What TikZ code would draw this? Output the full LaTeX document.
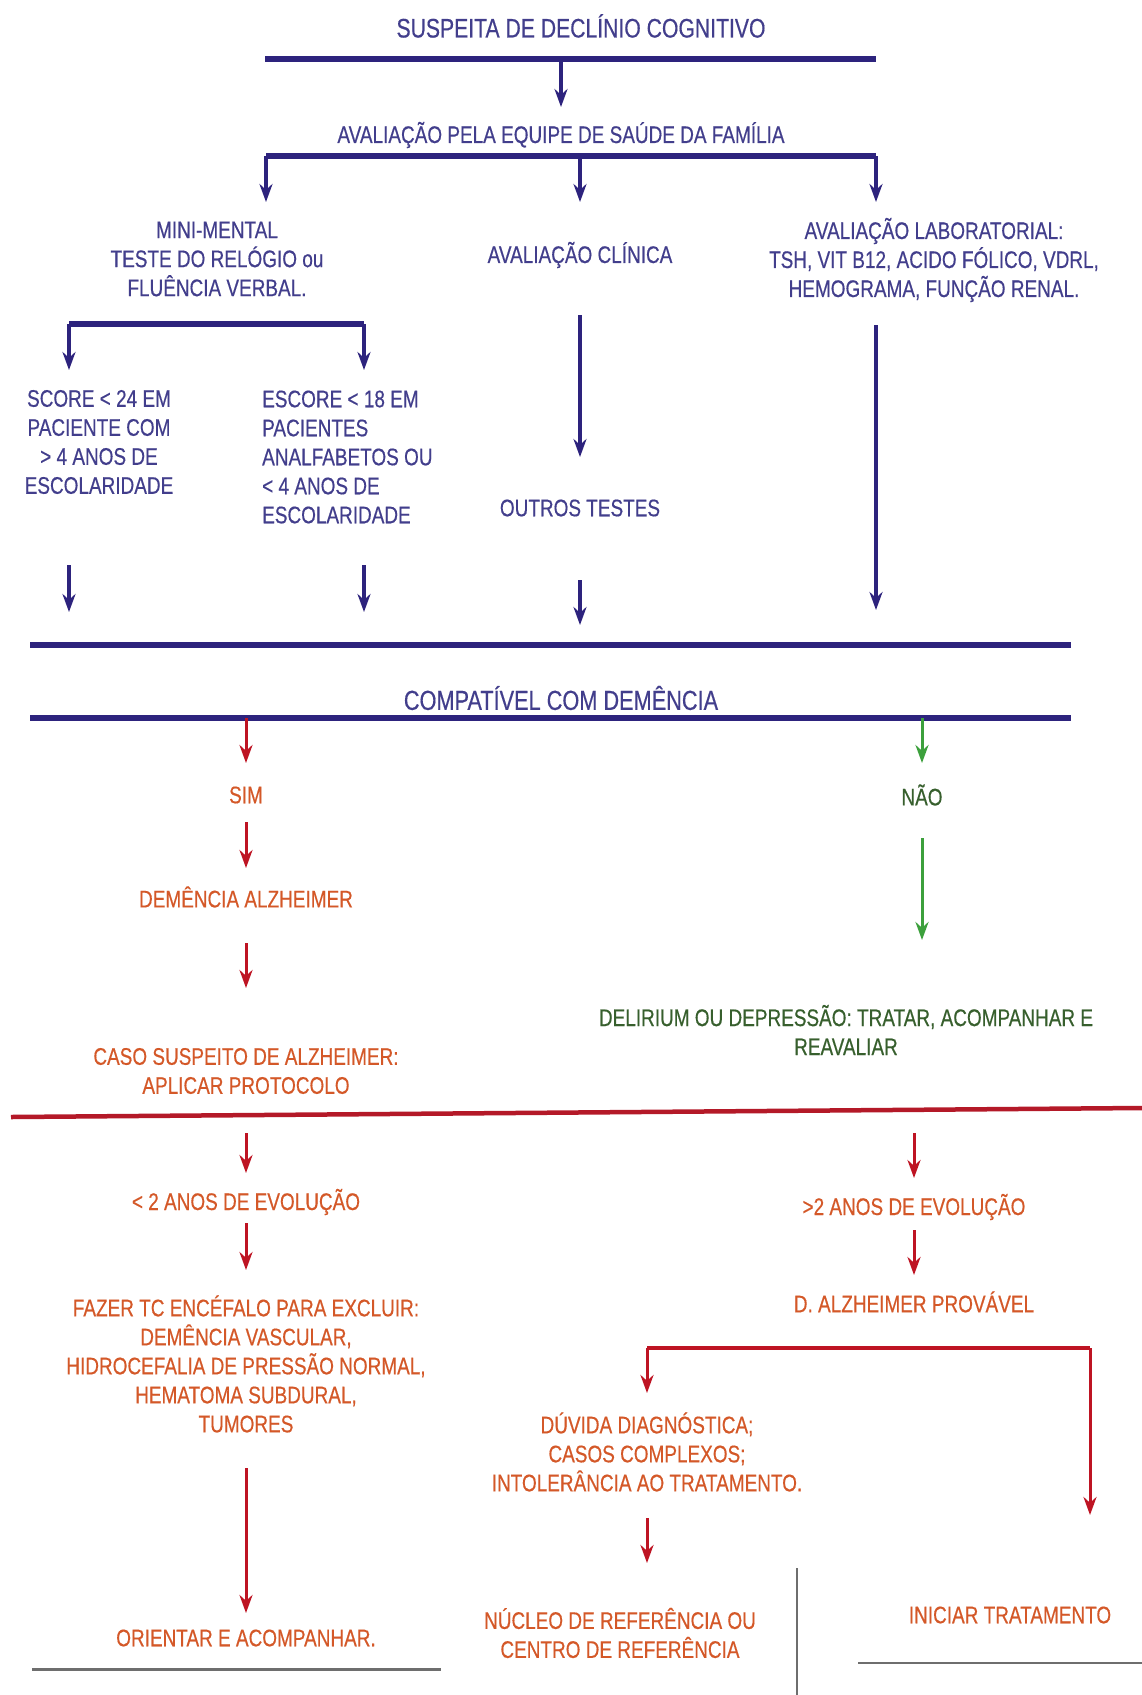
\documentclass[tikz,border=0pt]{standalone}
\usepackage{fontspec}
\setmainfont[FakeStretch=0.79,FakeBold=0.4]{Liberation Sans}
\usetikzlibrary{arrows.meta}
\definecolor{navy}{RGB}{45,35,125}
\definecolor{navytxt}{RGB}{66,62,140}
\definecolor{arrred}{RGB}{190,20,35}
\definecolor{lnred}{RGB}{180,25,40}
\definecolor{orangetxt}{RGB}{212,88,40}
\definecolor{grnarr}{RGB}{60,160,60}
\definecolor{grntxt}{RGB}{55,95,45}
\definecolor{grayln}{RGB}{110,110,110}
\tikzset{
  txt/.style={inner sep=0pt, align=center, font=\fontsize{24}{29}\selectfont},
  btxt/.style={txt, text=navytxt},
  otxt/.style={txt, text=orangetxt},
  gtxt/.style={txt, text=grntxt},
  barb/.style={draw=navy, line width=5.5pt},
  arb/.style={draw=navy, line width=3.5pt, -{Stealth[length=18pt,width=13pt]}},
  arr/.style={draw=arrred, line width=3pt, -{Stealth[length=18pt,width=13pt]}},
  arg/.style={draw=grnarr, line width=3pt, -{Stealth[length=18pt,width=13pt]}},
  barr/.style={draw=arrred, line width=4pt},
  grayl/.style={draw=grayln, line width=3pt}
}
\begin{document}
\begin{tikzpicture}[x=1pt,y=-1pt]
\fill[white] (0,0) rectangle (1142,1695);
\useasboundingbox (0,0) rectangle (1142,1695);

% ---- text nodes ----
\node[btxt, font=\fontsize{26.8}{29}\selectfont] (title) at (581,26) {SUSPEITA DE DECLÍNIO COGNITIVO};
\node[btxt] (equipe) at (561,135) {AVALIAÇÃO PELA EQUIPE DE SAÚDE DA FAMÍLIA};
\node[btxt] (mini) at (217,259) {MINI-MENTAL\\TESTE DO RELÓGIO ou\\FLUÊNCIA VERBAL.};
\node[btxt] (clinica) at (580,255) {AVALIAÇÃO CLÍNICA};
\node[btxt] (lab) at (934,260) {AVALIAÇÃO LABORATORIAL:\\TSH, VIT B12, ACIDO FÓLICO, VDRL,\\HEMOGRAMA, FUNÇÃO RENAL.};
\node[btxt] (score) at (99,442) {SCORE < 24 EM\\PACIENTE COM\\> 4 ANOS DE\\ESCOLARIDADE};
\node[btxt, anchor=west, align=left] (escore) at (262,457) {ESCORE < 18 EM\\PACIENTES\\ANALFABETOS OU\\< 4 ANOS DE\\ESCOLARIDADE};
\node[btxt] (outros) at (580,508) {OUTROS TESTES};
\node[btxt, font=\fontsize{27.5}{29}\selectfont] (compat) at (561,698) {COMPATÍVEL COM DEMÊNCIA};
\node[otxt] (sim) at (246,795) {SIM};
\node[gtxt] (nao) at (922,795) {NÃO};
\node[otxt] (demalz) at (246,897) {DEMÊNCIA ALZHEIMER};
\node[otxt] (caso) at (246,1071) {CASO SUSPEITO DE ALZHEIMER:\\APLICAR PROTOCOLO};
\node[gtxt] (delir) at (846,1030) {DELIRIUM OU DEPRESSÃO: TRATAR, ACOMPANHAR E\\REAVALIAR};
\node[otxt] (menos2) at (246,1202) {< 2 ANOS DE EVOLUÇÃO};
\node[otxt] (mais2) at (914,1207) {>2 ANOS DE EVOLUÇÃO};
\node[otxt] (fazer) at (246,1364) {FAZER TC ENCÉFALO PARA EXCLUIR:\\DEMÊNCIA VASCULAR,\\HIDROCEFALIA DE PRESSÃO NORMAL,\\HEMATOMA SUBDURAL,\\TUMORES};
\node[otxt] (provavel) at (914,1302) {D. ALZHEIMER PROVÁVEL};
\node[otxt] (duvida) at (647,1452) {DÚVIDA DIAGNÓSTICA;\\CASOS COMPLEXOS;\\INTOLERÂNCIA AO TRATAMENTO.};
\node[otxt] (orientar) at (246,1638) {ORIENTAR E ACOMPANHAR.};
\node[otxt] (nucleo) at (620,1633) {NÚCLEO DE REFERÊNCIA OU\\CENTRO DE REFERÊNCIA};
\node[otxt] (iniciar) at (1010,1615) {INICIAR TRATAMENTO};

% ---- coordinates ----
\coordinate (b1l) at (265,59);  \coordinate (b1r) at (876,59);  \coordinate (b1c) at (561,59);
\coordinate (b2l) at (266,156); \coordinate (b2c) at (580,156); \coordinate (b2r) at (876,156);
\coordinate (t2l) at (266,202); \coordinate (t2c) at (580,202); \coordinate (t2r) at (876,202);
\coordinate (b3l) at (69,324);  \coordinate (b3r) at (364,324);
\coordinate (t3l) at (69,370);  \coordinate (t3r) at (364,370);
\coordinate (l1) at (876,325);  \coordinate (l2) at (876,610);
\coordinate (s1a) at (69,565);  \coordinate (s1b) at (69,612);
\coordinate (s2a) at (364,565); \coordinate (s2b) at (364,612);
\coordinate (b4l) at (30,645);  \coordinate (b4r) at (1071,645); \coordinate (b4c) at (580,645);
\coordinate (b5l) at (30,718);  \coordinate (b5r) at (1071,718);
\coordinate (b5s) at (246,718); \coordinate (b5n) at (922,718);
\coordinate (gt) at (922,940);
\coordinate (rl1) at (11,1117); \coordinate (rl2) at (1142,1108);
\coordinate (r1) at (246,1133); \coordinate (r2) at (914,1133);
\coordinate (k1) at (647,1348); \coordinate (k2) at (1090,1348); \coordinate (k3) at (1090,1515);
\coordinate (d1) at (647,1563);
\coordinate (ga1) at (32,1669); \coordinate (ga2) at (441,1669);
\coordinate (gv1) at (797,1568); \coordinate (gv2) at (797,1695);
\coordinate (gh1) at (858,1663); \coordinate (gh2) at (1142,1663);

% ---- blue part ----
\draw[barb] (b1l) -- (b1r);
\draw[arb, shorten >=28pt] (b1c) -- (equipe.center);
\draw[barb] (b2l) -- (b2r);
\draw[arb] (b2l) -- (t2l);
\draw[arb] (b2c) -- (t2c);
\draw[arb] (b2r) -- (t2r);
\draw[barb] (b3l) -- (b3r);
\draw[arb] (b3l) -- (t3l);
\draw[arb] (b3r) -- (t3r);
\draw[arb, shorten <=60pt, shorten >=51pt] (clinica.center) -- (outros.center);
\draw[arb] (l1) -- (l2);
\draw[arb] (s1a) -- (s1b);
\draw[arb] (s2a) -- (s2b);
\draw[arb, shorten <=72pt, shorten >=20pt] (outros.center) -- (b4c);
\draw[barb] (b4l) -- (b4r);
\draw[barb] (b5l) -- (b5r);

% ---- yes / no ----
\draw[arr, shorten >=32pt] (b5s) -- (sim.center);
\draw[arr, shorten <=27pt, shorten >=29pt] (sim.center) -- (demalz.center);
\draw[arr, shorten <=46pt, shorten >=83pt] (demalz.center) -- (caso.center);
\draw[arg, shorten >=32pt] (b5n) -- (nao.center);
\draw[arg, shorten <=43pt] (nao.center) -- (gt);

% ---- red part ----
\draw[draw=lnred, line width=4.5pt] (rl1) -- (rl2);
\draw[arr, shorten >=29pt] (r1) -- (menos2.center);
\draw[arr, shorten <=21pt, shorten >=94pt] (menos2.center) -- (fazer.center);
\draw[arr, shorten <=104pt, shorten >=25pt] (fazer.center) -- (orientar.center);
\draw[arr, shorten >=29pt] (r2) -- (mais2.center);
\draw[arr, shorten <=23pt, shorten >=27pt] (mais2.center) -- (provavel.center);
\draw[barr] (k1) -- (k2);
\draw[arr, shorten >=59pt] (k1) -- (duvida.center);
\draw[arr] (k2) -- (k3);
\draw[arr, shorten <=66pt] (duvida.center) -- (d1);

% ---- gray lines ----
\draw[grayl] (ga1) -- (ga2);
\draw[draw=grayln, line width=1.5pt] (gv1) -- (gv2);
\draw[draw=grayln, line width=2.5pt] (gh1) -- (gh2);
\end{tikzpicture}
\end{document}
